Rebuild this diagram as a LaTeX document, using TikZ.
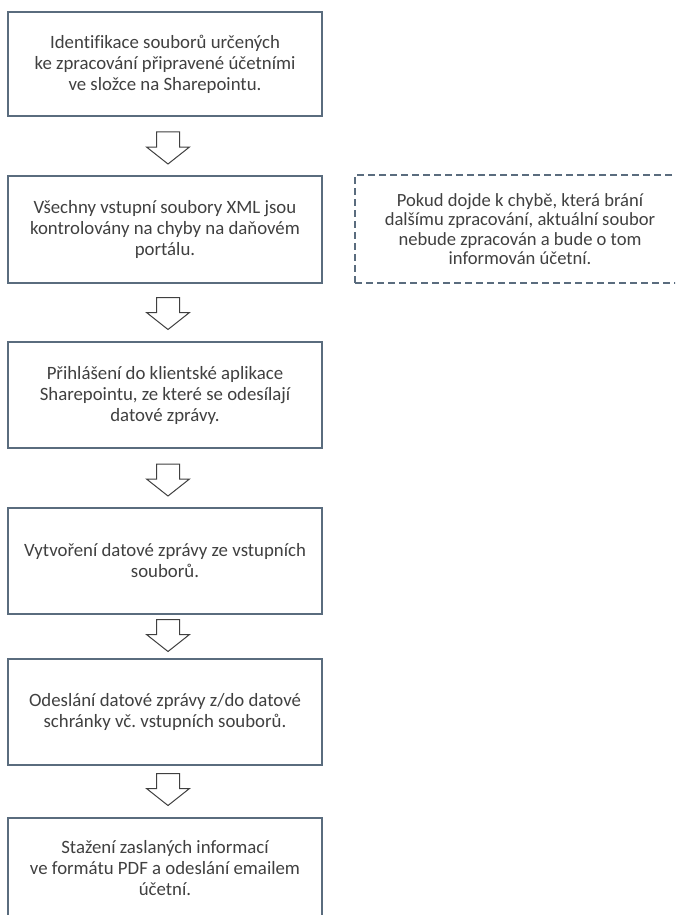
\documentclass[tikz,border=0pt]{standalone}
\usepackage{fontspec}
\setmainfont[Ligatures=NoCommon]{Carlito}
\usetikzlibrary{calc}
\definecolor{boxline}{HTML}{5A6C7E}
\definecolor{txt}{HTML}{404040}
\tikzset{
  stepbox/.style={draw=boxline, line width=1.6pt, fill=white, rectangle,
    minimum width=314pt, align=center, text=txt,
    font=\fontsize{18.8pt}{21pt}\selectfont\frenchspacing},
  notebox/.style={draw=boxline, line width=1.5pt, dash pattern=on 7pt off 4pt,
    rectangle, minimum width=330pt, minimum height=108pt, align=center, text=txt,
    font=\fontsize{18.6pt}{19.5pt}\selectfont\frenchspacing},
  arrowline/.style={draw=txt, line width=1pt, fill=white, line join=miter},
  downarrow/.pic={\path[arrowline] (-11.5,16) -- (11.5,16) -- (11.5,1) -- (21.5,1) -- (0,-16) -- (-21.5,1) -- (-11.5,1) -- cycle;}
}
\begin{document}
\begin{tikzpicture}[x=1pt,y=1pt]
\useasboundingbox (0,0) rectangle (675,-915);
\clip (0,0) rectangle (675,-915);
\node[stepbox, minimum height=104pt] (b1) at (165,-64) {Identifikace souborů určených\\ke zpracování připravené účetními\\ve složce na Sharepointu.};
\node[stepbox, minimum height=107pt] (b2) at (165,-229.5) {Všechny vstupní soubory XML jsou\\kontrolovány na chyby na daňovém\\portálu.};
\node[stepbox, minimum height=106pt] (b3) at (165,-395) {Přihlášení do klientské aplikace\\Sharepointu, ze které se odesílají\\datové zprávy.};
\node[stepbox, minimum height=106pt] (b4) at (165,-561) {Vytvoření datové zprávy ze vstupních\\souborů.};
\node[stepbox, minimum height=106pt] (b5) at (165,-712) {Odeslání datové zprávy z/do datové\\schránky vč.\ vstupních souborů.};
\node[stepbox, minimum height=100pt] (b6) at (165,-868) {Stažení zaslaných informací\\ve formátu PDF a odeslání emailem\\účetní.};
\node[notebox] (n1) at (520,-229) {Pokud dojde k chybě, která brání\\dalšímu zpracování, aktuální soubor\\nebude zpracován a bude o tom\\informován účetní.};
\coordinate (a1) at ($($(b1.south)!0.5!(b2.north)$)+(3,-2)$);
\coordinate (a2) at ($($(b2.south)!0.5!(b3.north)$)+(3,-1)$);
\coordinate (a3) at ($($(b3.south)!0.5!(b4.north)$)+(3,-2)$);
\coordinate (a4) at ($($(b4.south)!0.5!(b5.north)$)+(3,1)$);
\coordinate (a5) at ($($(b5.south)!0.5!(b6.north)$)+(3,2)$);
\foreach \a in {a1,a2,a3,a4,a5} { \pic at (\a) {downarrow}; }
\end{tikzpicture}
\end{document}
